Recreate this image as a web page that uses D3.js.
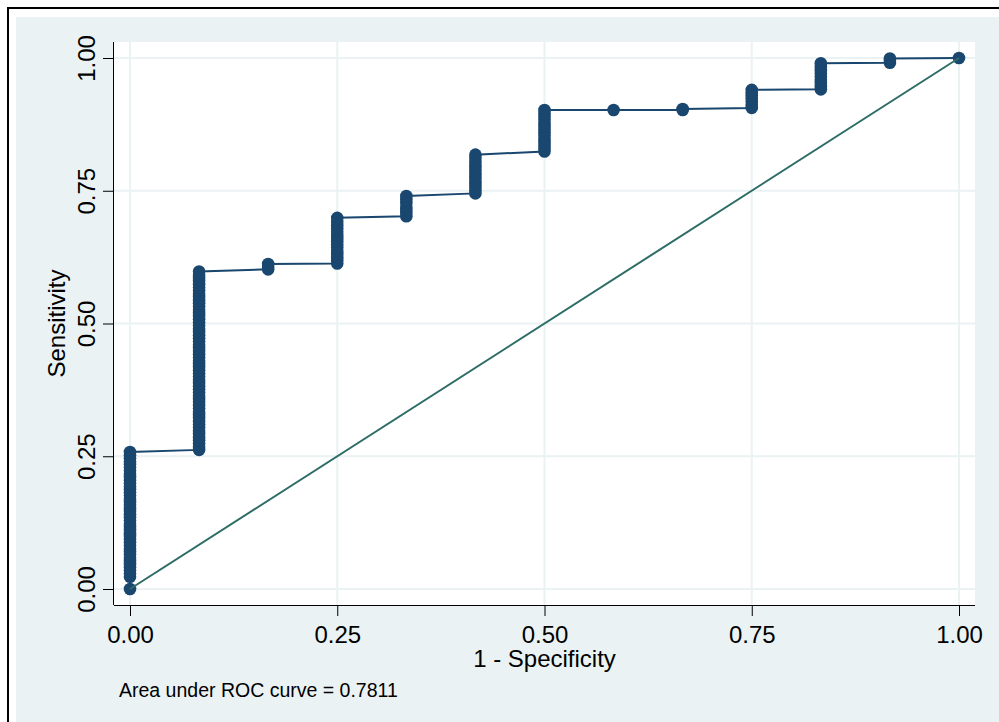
<!DOCTYPE html>
<html>
<head>
<meta charset="utf-8">
<script src="https://cdn.jsdelivr.net/npm/d3@7"></script>
<style>
  body { margin: 0; background: #fff; }
  text { font-family: "Liberation Sans", Arial, sans-serif; fill: #000; }
</style>
</head>
<body>
<script>
var w = 999;
var h = 722;

// 1 - specificity levels (12 negatives) and the sensitivities plotted at each
var fprLevels = [0, 1/12, 2/12, 3/12, 4/12, 5/12, 6/12, 7/12, 8/12, 9/12, 10/12, 11/12, 1];
var sensByLevel = [
  [0, 0.023, 0.029, 0.035, 0.041, 0.047, 0.053, 0.059, 0.065, 0.070, 0.076, 0.082, 0.088, 0.094, 0.100, 0.105, 0.111, 0.117, 0.123, 0.129, 0.135, 0.141, 0.147, 0.152, 0.158, 0.164, 0.170, 0.176, 0.182, 0.188, 0.193, 0.199, 0.205, 0.211, 0.217, 0.223, 0.229, 0.235, 0.240, 0.246, 0.252, 0.258],
  [0.262, 0.268, 0.274, 0.280, 0.286, 0.292, 0.298, 0.304, 0.310, 0.316, 0.322, 0.328, 0.334, 0.340, 0.346, 0.352, 0.358, 0.364, 0.370, 0.376, 0.382, 0.388, 0.394, 0.400, 0.406, 0.412, 0.418, 0.424, 0.430, 0.436, 0.442, 0.448, 0.454, 0.460, 0.466, 0.472, 0.478, 0.484, 0.490, 0.496, 0.502, 0.508, 0.514, 0.520, 0.526, 0.532, 0.538, 0.544, 0.550, 0.556, 0.562, 0.568, 0.574, 0.580, 0.586, 0.592, 0.598],
  [0.602, 0.607, 0.612],
  [0.613, 0.619, 0.625, 0.631, 0.637, 0.643, 0.649, 0.655, 0.661, 0.667, 0.673, 0.679, 0.685, 0.692, 0.699],
  [0.702, 0.708, 0.714, 0.720, 0.727, 0.734, 0.740],
  [0.745, 0.751, 0.757, 0.763, 0.769, 0.775, 0.781, 0.787, 0.793, 0.799, 0.805, 0.812, 0.818],
  [0.824, 0.830, 0.836, 0.842, 0.848, 0.854, 0.860, 0.866, 0.872, 0.878, 0.884, 0.890, 0.896, 0.902],
  [0.902],
  [0.902, 0.904],
  [0.906, 0.912, 0.918, 0.924, 0.930, 0.935, 0.940],
  [0.941, 0.947, 0.953, 0.959, 0.965, 0.971, 0.977, 0.983, 0.990],
  [0.991, 0.995, 0.999],
  [1]
];
var ticks = [0, 0.25, 0.5, 0.75, 1];
var xTitle = "1 - Specificity";
var yTitle = "Sensitivity";
var note = "Area under ROC curve = 0.7811";

var rocPoints = [];
fprLevels.forEach(function(f, i) {
  sensByLevel[i].forEach(function(s) { rocPoints.push({x: f, y: s}); });
});

var plot = {left: 114, right: 975, top: 42, bottom: 605};

var xScale = d3.scaleLinear().domain([0, 1]).range([130, 959]);
var yScale = d3.scaleLinear().domain([0, 1]).range([589, 58]);

var svg = d3.select("body").append("svg")
  .attr("width", w)
  .attr("height", h);

// outer frame
svg.append("rect").attr("x", 0).attr("y", 0).attr("width", w).attr("height", h).attr("fill", "#fff");
svg.append("rect").attr("x", 16).attr("y", 17).attr("width", w - 16).attr("height", h - 17).attr("fill", "#eaf2f3");
svg.append("path")
  .attr("d", "M8," + h + "V8H" + w)
  .attr("fill", "none").attr("stroke", "#000").attr("stroke-width", 2);

// plot region
svg.append("rect")
  .attr("x", plot.left).attr("y", plot.top)
  .attr("width", plot.right - plot.left).attr("height", plot.bottom - plot.top)
  .attr("fill", "#fff");

// grid
svg.append("g").selectAll("line").data(ticks).enter().append("line")
  .attr("x1", plot.left).attr("x2", plot.right)
  .attr("y1", function(d) { return yScale(d); })
  .attr("y2", function(d) { return yScale(d); })
  .attr("stroke", "#eaf2f3").attr("stroke-width", 2);
svg.append("g").selectAll("line").data(ticks).enter().append("line")
  .attr("y1", plot.top).attr("y2", plot.bottom)
  .attr("x1", function(d) { return xScale(d); })
  .attr("x2", function(d) { return xScale(d); })
  .attr("stroke", "#eaf2f3").attr("stroke-width", 2);

// axes
var xAxis = d3.axisBottom(xScale).tickValues(ticks).tickFormat(d3.format(".2f")).tickSize(11).tickPadding(4);
var yAxis = d3.axisLeft(yScale).tickValues(ticks).tickFormat(d3.format(".2f")).tickSize(11).tickPadding(4);

var gx = svg.append("g").attr("transform", "translate(0," + plot.bottom + ")").call(xAxis);
gx.select(".domain").attr("d", "M" + plot.left + ",0.5H" + plot.right).attr("stroke", "#000");
gx.selectAll("line").attr("stroke", "#000");
gx.selectAll("text").attr("font-size", 24).attr("font-family", "Liberation Sans, Arial, sans-serif")
  .attr("y", 38).attr("dy", 0);

var gy = svg.append("g").attr("transform", "translate(" + plot.left + ",0)").call(yAxis);
gy.select(".domain").attr("d", "M-0.5," + plot.top + "V" + plot.bottom).attr("stroke", "#000");
gy.selectAll("line").attr("stroke", "#000");
// tick groups are already translated to each value, so only shift and rotate
gy.selectAll("text")
  .attr("font-size", 24).attr("font-family", "Liberation Sans, Arial, sans-serif")
  .attr("text-anchor", "middle")
  .attr("x", 0).attr("y", 0).attr("dy", 0)
  .attr("transform", "translate(-19,0) rotate(-90)");

// axis titles
svg.append("text")
  .attr("x", (xScale(0) + xScale(1)) / 2).attr("y", 667)
  .attr("text-anchor", "middle").attr("font-size", 24)
  .text(xTitle);
svg.append("text")
  .attr("transform", "translate(65," + (plot.top + plot.bottom) / 2 + ") rotate(-90)")
  .attr("text-anchor", "middle").attr("font-size", 24)
  .text(yTitle);

// note
svg.append("text")
  .attr("x", 119).attr("y", 697)
  .attr("font-size", 19.5)
  .text(note);

// ROC curve
var line = d3.line()
  .x(function(d) { return xScale(d.x); })
  .y(function(d) { return yScale(d.y); });

svg.append("path")
  .datum(rocPoints)
  .attr("d", line)
  .attr("fill", "none").attr("stroke", "#1a476f").attr("stroke-width", 2);

svg.append("g").selectAll("circle").data(rocPoints).enter().append("circle")
  .attr("cx", function(d) { return xScale(d.x); })
  .attr("cy", function(d) { return yScale(d.y); })
  .attr("r", 6.3)
  .attr("fill", "#1a476f");

// reference line
svg.append("path")
  .datum([{x: 0, y: 0}, {x: 1, y: 1}])
  .attr("d", line)
  .attr("fill", "none").attr("stroke", "#2d6d66").attr("stroke-width", 2);
</script>
</body>
</html>
